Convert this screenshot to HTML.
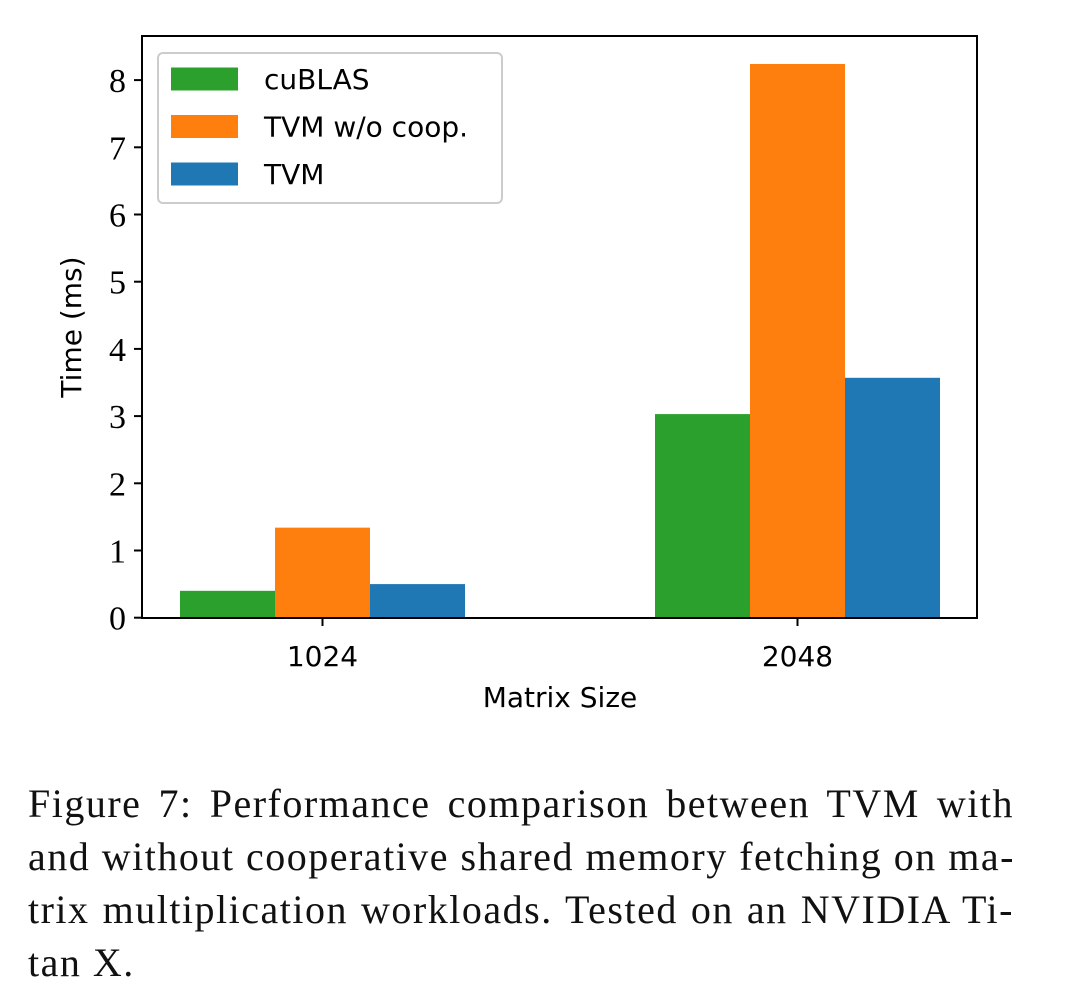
<!DOCTYPE html>
<html><head><meta charset="utf-8"><style>
html,body{margin:0;padding:0;background:#fff;width:1080px;height:990px;overflow:hidden}
svg{display:block}
.caption{position:absolute;left:28px;top:777px;width:986px;font-family:"Liberation Serif",serif;font-size:40px;line-height:53px;letter-spacing:1.5px;color:#111}
.caption div{text-align:justify;text-align-last:justify;white-space:nowrap}
.caption div.last{text-align-last:left}
</style></head><body>
<svg id="chart" width="1080" height="760" xmlns="http://www.w3.org/2000/svg"></svg>
<div class="caption"><div>Figure 7: Performance comparison between TVM with</div><div>and without cooperative shared memory fetching on ma-</div><div>trix multiplication workloads. Tested on an NVIDIA Ti-</div><div class="last">tan X.</div></div>
<script>
const categories = ["1024", "2048"];
const seriesNames = ["cuBLAS", "TVM w/o coop.", "TVM"];
const cublas = [0.40, 3.03];
const tvmNoCoop = [1.34, 8.24];
const tvm = [0.50, 3.57];
const yTicks = [0, 1, 2, 3, 4, 5, 6, 7, 8];

const svg = document.getElementById('chart');
const NS = 'http://www.w3.org/2000/svg';
const L = 142, R = 977, T = 36, B = 618;
const y0 = 617.7, unit = 67.2;
const yScale = v => y0 - v * unit;
const groupCenters = [322.5, 797.5];
const barW = 95;
const xScale = (i, s) => groupCenters[i] + (s - 1) * barW - barW / 2;
const colors = ["#2ca02c", "#ff7f0e", "#1f77b4"];
const series = [cublas, tvmNoCoop, tvm];

function mk(tag, attrs, text) {
  const e = document.createElementNS(NS, tag);
  for (const k in attrs) e.setAttribute(k, attrs[k]);
  if (text !== undefined) e.textContent = text;
  svg.appendChild(e);
  return e;
}

series.forEach((vals, s) => {
  vals.forEach((v, i) => {
    const r = mk('rect', {x: xScale(i, s), y: yScale(v), width: barW, height: y0 - yScale(v), fill: colors[s]});
    
    
  });
});

const frame = mk('rect', {x: L, y: T, width: R - L, height: B - T, fill: 'none', stroke: '#000', 'stroke-width': 2});



yTicks.forEach(t => {
  const yy = yScale(t);
  const tk = mk('line', {x1: L - 8, x2: L, y1: yy, y2: yy, stroke: '#000', 'stroke-width': 2});
  
  
  const lb = mk('text', {x: L - 16, y: yy + 12, 'text-anchor': 'end', 'font-family': 'Liberation Serif, serif', 'font-size': 34}, String(t));
  
  
});

categories.forEach((c, i) => {
  const tk = mk('line', {x1: groupCenters[i], x2: groupCenters[i], y1: B, y2: B + 8, stroke: '#000', 'stroke-width': 2});
  
  
  const lb = mk('text', {x: groupCenters[i], y: 666, 'text-anchor': 'middle', 'font-family': 'DejaVu Sans, sans-serif', 'font-size': 28}, c);
  
  
});

const xt = mk('text', {x: 560, y: 707, 'text-anchor': 'middle', 'font-family': 'DejaVu Sans, sans-serif', 'font-size': 28}, 'Matrix Size');


const yt = mk('text', {x: 0, y: 0, 'text-anchor': 'middle', 'font-family': 'DejaVu Sans, sans-serif', 'font-size': 28, transform: 'translate(81,327) rotate(-90)'}, 'Time (ms)');



const lg = mk('rect', {x: 158, y: 53, width: 344, height: 150, rx: 5, fill: '#fff', stroke: '#ccc', 'stroke-width': 2});


seriesNames.forEach((n, s) => {
  const cy = 79 + s * 47.5;
  const p = mk('rect', {x: 171, y: cy - 11.5, width: 67, height: 23, fill: colors[s]});
  
  
  const t = mk('text', {x: 264, y: cy + 10, 'font-family': 'DejaVu Sans, sans-serif', 'font-size': 28}, n);
  
  
});
</script>
</body></html>
